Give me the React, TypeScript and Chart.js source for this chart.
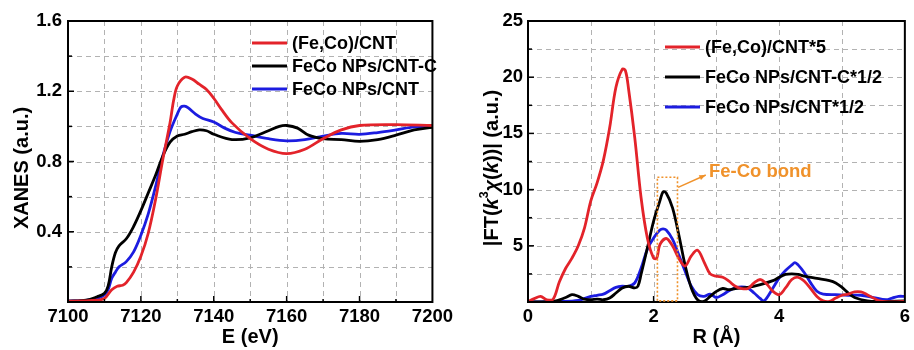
import React, { useEffect, useRef } from "react";
import { Chart, registerables } from "chart.js";
Chart.register(...registerables);

// ---------- Left panel: XANES ----------
const xanesLabels = ["(Fe,Co)/CNT", "FeCo NPs/CNT-C", "FeCo NPs/CNT"];
const xanesColors = ["#e3232a", "#000000", "#1c1ce0"];

const feCoCntE = [7100, 7104, 7108, 7110, 7112, 7113.5, 7115, 7116, 7118, 7120, 7122, 7124, 7126, 7128, 7129, 7130, 7132, 7134, 7136, 7138, 7140, 7142, 7145, 7150, 7155, 7160, 7165, 7170, 7175, 7180, 7190, 7200];
const feCoCntV = [0.005, 0.006, 0.01, 0.02, 0.07, 0.09, 0.095, 0.11, 0.17, 0.26, 0.39, 0.58, 0.81, 1.02, 1.15, 1.23, 1.28, 1.27, 1.24, 1.21, 1.16, 1.1, 1.02, 0.93, 0.87, 0.845, 0.87, 0.93, 0.98, 1.005, 1.01, 1.005];

const npsCntCE = [7100, 7105, 7108, 7110, 7111, 7112, 7113, 7114, 7116, 7118, 7120, 7122, 7124, 7126, 7128, 7130, 7132, 7134, 7136, 7138, 7140, 7145, 7150, 7155, 7158, 7160, 7163, 7166, 7170, 7175, 7180, 7185, 7190, 7195, 7200];
const npsCntCV = [0.005, 0.01, 0.03, 0.05, 0.09, 0.2, 0.28, 0.32, 0.36, 0.43, 0.52, 0.62, 0.72, 0.83, 0.91, 0.945, 0.955, 0.97, 0.98, 0.975, 0.955, 0.925, 0.935, 0.975, 1.0, 1.005, 0.99, 0.95, 0.93, 0.925, 0.915, 0.925, 0.95, 0.98, 0.995];

const npsCntE = [7100, 7104, 7108, 7110, 7111, 7112, 7113, 7114, 7116, 7118, 7120, 7122, 7124, 7126, 7128, 7130, 7131, 7132, 7133, 7135, 7137, 7140, 7143, 7146, 7150, 7155, 7160, 7165, 7170, 7175, 7180, 7185, 7190, 7195, 7200];
const npsCntV = [0.005, 0.008, 0.02, 0.04, 0.07, 0.135, 0.17, 0.2, 0.23, 0.285, 0.38, 0.5, 0.655, 0.83, 0.97, 1.07, 1.11, 1.115, 1.105, 1.07, 1.045, 1.025, 0.99, 0.965, 0.95, 0.93, 0.918, 0.925, 0.945, 0.96, 0.955, 0.965, 0.98, 0.997, 1.0];

const xanesXTicks = [7100, 7120, 7140, 7160, 7180, 7200];
const xanesYTicks = [0.4, 0.8, 1.2, 1.6];
const xanesXGrid = [7110, 7120, 7130, 7140, 7150, 7160, 7170, 7180, 7190];
const xanesYGrid = [0.2, 0.4, 0.6, 0.8, 1.0, 1.2, 1.4];

// ---------- Right panel: FT-EXAFS ----------
const ftLabels = ["(Fe,Co)/CNT*5", "FeCo NPs/CNT-C*1/2", "FeCo NPs/CNT*1/2"];
const ftColors = ["#e3232a", "#000000", "#1c1ce0"];

const ftRedR = [0, 0.1, 0.2, 0.3, 0.4, 0.5, 0.6, 0.7, 0.8, 0.9, 1.0, 1.1, 1.2, 1.3, 1.4, 1.5, 1.55, 1.6, 1.7, 1.8, 1.9, 2.0, 2.05, 2.1, 2.2, 2.3, 2.4, 2.5, 2.6, 2.7, 2.8, 2.9, 3.0, 3.1, 3.2, 3.3, 3.4, 3.5, 3.6, 3.7, 3.8, 3.9, 4.0, 4.1, 4.2, 4.3, 4.4, 4.5, 4.6, 4.7, 4.8, 4.9, 5.0, 5.1, 5.2, 5.3, 5.4, 5.5, 5.6, 5.8, 6.0];
const ftRedV = [0.05, 0.3, 0.5, 0.2, 0.25, 1.8, 3.0, 3.9, 5.0, 6.6, 9.0, 10.6, 12.6, 15.5, 19.1, 20.7, 20.6, 19.0, 14.6, 9.3, 5.7, 3.9, 3.9, 5.1, 5.65, 5.0, 3.9, 3.2, 4.1, 4.6, 3.6, 2.5, 2.3, 2.2, 1.85, 1.4, 1.2, 1.2, 1.7, 2.0, 1.6, 0.95, 0.65, 1.25, 2.0, 2.2, 1.85, 1.2, 0.5, 0.1, 0.05, 0.35, 0.6, 0.7, 0.9, 0.9, 0.65, 0.35, 0.1, 0.0, 0.05];

const ftBlackR = [0, 0.4, 0.6, 0.7, 0.8, 0.9, 1.0, 1.1, 1.2, 1.3, 1.4, 1.5, 1.6, 1.7, 1.75, 1.8, 1.9, 2.0, 2.1, 2.15, 2.2, 2.3, 2.4, 2.5, 2.6, 2.7, 2.8, 2.9, 3.0, 3.1, 3.2, 3.3, 3.5, 3.7, 3.9, 4.0, 4.1, 4.2, 4.3, 4.4, 4.6, 4.8, 4.9, 5.0, 5.1, 5.2, 5.4, 5.6, 6.0];
const ftBlackV = [0.0, 0.05, 0.4, 0.65, 0.5, 0.25, 0.2, 0.25, 0.2, 0.35, 0.8, 1.25, 1.4, 1.25, 1.4, 2.45, 4.8, 7.2, 9.0, 9.8, 9.7, 8.4, 6.0, 3.3, 1.25, 0.2, 0.05, 0.5, 0.95, 1.2, 1.1, 1.2, 1.3, 1.55, 1.9, 2.2, 2.45, 2.5, 2.45, 2.3, 2.1, 1.9, 1.7, 1.3, 0.8, 0.4, 0.1, 0.05, 0.1];

const ftBlueR = [0, 0.5, 0.8, 1.0, 1.1, 1.2, 1.3, 1.4, 1.5, 1.6, 1.7, 1.8, 1.9, 2.0, 2.1, 2.15, 2.2, 2.3, 2.4, 2.5, 2.6, 2.7, 2.8, 2.9, 3.0, 3.1, 3.2, 3.3, 3.4, 3.5, 3.6, 3.7, 3.75, 3.8, 3.9, 4.0, 4.1, 4.2, 4.25, 4.3, 4.4, 4.5, 4.6, 4.7, 4.9, 5.1, 5.3, 5.5, 5.7, 5.8, 5.9, 6.0];
const ftBlueV = [0.0, 0.05, 0.15, 0.5, 0.6, 0.7, 1.0, 1.3, 1.4, 1.4, 1.7, 3.0, 4.7, 5.7, 6.4, 6.5, 6.4, 5.6, 4.2, 2.75, 1.4, 0.65, 0.5, 0.7, 0.4, 0.65, 1.0, 1.25, 1.35, 1.25, 0.8, 0.3, 0.1, 0.35, 1.25, 2.15, 2.8, 3.3, 3.5, 3.3, 2.6, 1.7, 0.95, 0.7, 0.65, 0.6, 0.6, 0.4, 0.2, 0.35, 0.5, 0.5];

const ftXTicks = [0, 2, 4, 6];
const ftYTicks = [5, 10, 15, 20, 25];
const ftXGrid = [1, 2, 3, 4, 5];
const ftYGrid = [2.5, 5, 7.5, 10, 12.5, 15, 17.5, 20, 22.5];

const annotationText = "Fe-Co bond";

const FONT = '"Liberation Sans", Arial, sans-serif';
const ORANGE = "#f0922b";

function zip(xs: number[], ys: number[]) {
  return xs.map((x, i) => ({ x, y: ys[i] }));
}

type Seg = { t: string; italic?: boolean; sup?: boolean };

function drawSegmentsRotated(ctx: CanvasRenderingContext2D, segs: Seg[], cx: number, cy: number, size: number) {
  ctx.save();
  ctx.translate(cx, cy);
  ctx.rotate(-Math.PI / 2);
  ctx.textBaseline = "middle";
  ctx.textAlign = "left";
  const fontFor = (s: Seg) => `${s.italic ? "italic " : ""}bold ${s.sup ? size * 0.62 : size}px ${FONT}`;
  let total = 0;
  for (const s of segs) {
    ctx.font = fontFor(s);
    total += ctx.measureText(s.t).width;
  }
  let x = -total / 2;
  for (const s of segs) {
    ctx.font = fontFor(s);
    ctx.fillStyle = "#000";
    ctx.fillText(s.t, x, s.sup ? -size * 0.38 : 0);
    x += ctx.measureText(s.t).width;
  }
  ctx.restore();
}

function makePlugin(opts: {
  legend: { labels: string[]; colors: string[]; lineX0: number; lineX1: number; textX: number; rows: number[] };
  xGrid: number[];
  yGrid: number[];
  xMajor: number[];
  yMajor: number[];
  xTitle: string;
  yTitle: (ctx: CanvasRenderingContext2D, chart: any) => void;
  extra?: (chart: any) => void;
}) {
  return {
    id: "customDraw",
    beforeDatasetsDraw(chart: any) {
      const ctx: CanvasRenderingContext2D = chart.ctx;
      const a = chart.chartArea;
      const xs = chart.scales.x;
      const ys = chart.scales.y;
      ctx.save();
      ctx.strokeStyle = "#b2b2b2";
      ctx.lineWidth = 1;
      ctx.setLineDash([5, 4]);
      for (const v of opts.xGrid) {
        const px = Math.round(xs.getPixelForValue(v)) + 0.5;
        ctx.beginPath();
        ctx.moveTo(px, a.top);
        ctx.lineTo(px, a.bottom);
        ctx.stroke();
      }
      for (const v of opts.yGrid) {
        const py = Math.round(ys.getPixelForValue(v)) + 0.5;
        ctx.beginPath();
        ctx.moveTo(a.left, py);
        ctx.lineTo(a.right, py);
        ctx.stroke();
      }
      ctx.restore();
    },
    afterDraw(chart: any) {
      const ctx: CanvasRenderingContext2D = chart.ctx;
      const a = chart.chartArea;
      const xs = chart.scales.x;
      const ys = chart.scales.y;
      ctx.save();
      ctx.strokeStyle = "#000";
      ctx.lineWidth = 1.5;
      for (const v of opts.xGrid) {
        const px = xs.getPixelForValue(v);
        const len = opts.xMajor.includes(v) ? 6 : 3;
        ctx.beginPath();
        ctx.moveTo(px, a.bottom);
        ctx.lineTo(px, a.bottom - len);
        ctx.stroke();
      }
      for (const v of opts.yGrid) {
        const py = ys.getPixelForValue(v);
        const len = opts.yMajor.includes(v) ? 6 : 4;
        ctx.beginPath();
        ctx.moveTo(a.left, py);
        ctx.lineTo(a.left + len, py);
        ctx.stroke();
      }
      ctx.lineWidth = 2;
      ctx.strokeRect(a.left, a.top, a.right - a.left, a.bottom - a.top);
      const L = opts.legend;
      ctx.font = `bold 18px ${FONT}`;
      ctx.textBaseline = "middle";
      ctx.textAlign = "left";
      L.labels.forEach((lab, i) => {
        ctx.strokeStyle = L.colors[i];
        ctx.lineWidth = 3;
        ctx.beginPath();
        ctx.moveTo(L.lineX0, L.rows[i]);
        ctx.lineTo(L.lineX1, L.rows[i]);
        ctx.stroke();
        ctx.fillStyle = "#000";
        ctx.fillText(lab, L.textX, L.rows[i] + 1);
      });
      ctx.font = `bold 20px ${FONT}`;
      ctx.textAlign = "center";
      ctx.fillStyle = "#000";
      ctx.fillText(opts.xTitle, (a.left + a.right) / 2, 337);
      opts.yTitle(ctx, chart);
      if (opts.extra) opts.extra(chart);
      ctx.restore();
    },
  };
}

function useChart(ref: React.RefObject<HTMLCanvasElement | null>, build: () => any) {
  useEffect(() => {
    if (!ref.current) return;
    const chart = new Chart(ref.current, build());
    return () => chart.destroy();
  }, []);
}

const tickFont = { family: FONT, size: 18.5, weight: "bold" };

function XanesChart() {
  const ref = useRef<HTMLCanvasElement | null>(null);
  useChart(ref, () => {
    const series = [zip(feCoCntE, feCoCntV), zip(npsCntCE, npsCntCV), zip(npsCntE, npsCntV)];
    return {
      type: "line",
      data: {
        datasets: series.map((d, i) => ({
          label: xanesLabels[i],
          data: d,
          borderColor: xanesColors[i],
          borderWidth: 2.8,
          pointRadius: 0,
          tension: 0.35,
          fill: false,
        })),
      },
      options: {
        responsive: false,
        animation: false,
        layout: { padding: { top: 21, right: 8, left: 0, bottom: 0 } },
        plugins: { legend: { display: false }, tooltip: { enabled: false } },
        scales: {
          x: {
            type: "linear",
            min: 7100,
            max: 7200,
            afterFit: (s: any) => { s.height = 48; },
            afterBuildTicks: (s: any) => { s.ticks = xanesXTicks.map((v) => ({ value: v })); },
            ticks: {
              autoSkip: false,
              maxRotation: 0,
              padding: 4,
              color: "#000",
              font: tickFont,
              callback: (v: number) => String(v),
            },
            grid: { display: false, drawTicks: false },
            border: { display: false },
          },
          y: {
            type: "linear",
            min: 0,
            max: 1.6,
            afterFit: (s: any) => { s.width = 68; },
            afterBuildTicks: (s: any) => { s.ticks = xanesYTicks.map((v) => ({ value: v })); },
            ticks: {
              autoSkip: false,
              padding: 6,
              color: "#000",
              font: tickFont,
              callback: (v: number) => v.toFixed(1),
            },
            grid: { display: false, drawTicks: false },
            border: { display: false },
          },
        },
      },
      plugins: [
        makePlugin({
          legend: { labels: xanesLabels, colors: xanesColors, lineX0: 252, lineX1: 287, textX: 292, rows: [43, 66, 89] },
          xGrid: xanesXGrid,
          yGrid: xanesYGrid,
          xMajor: xanesXTicks,
          yMajor: xanesYTicks,
          xTitle: "E (eV)",
          yTitle: (ctx) => {
            drawSegmentsRotated(ctx, [{ t: "XANES (a.u.)" }], 22, 168, 20);
          },
        }),
      ],
    };
  });
  return <canvas ref={ref} width={457} height={350} style={{ display: "block" }} />;
}

function FtChart() {
  const ref = useRef<HTMLCanvasElement | null>(null);
  useChart(ref, () => {
    const series = [zip(ftRedR, ftRedV), zip(ftBlackR, ftBlackV), zip(ftBlueR, ftBlueV)];
    return {
      type: "line",
      data: {
        datasets: series.map((d, i) => ({
          label: ftLabels[i],
          data: d,
          borderColor: ftColors[i],
          borderWidth: 2.8,
          pointRadius: 0,
          tension: 0.35,
          fill: false,
        })),
      },
      options: {
        responsive: false,
        animation: false,
        layout: { padding: { top: 21, right: 5, left: 0, bottom: 0 } },
        plugins: { legend: { display: false }, tooltip: { enabled: false } },
        scales: {
          x: {
            type: "linear",
            min: 0,
            max: 6,
            afterFit: (s: any) => { s.height = 48; },
            afterBuildTicks: (s: any) => { s.ticks = ftXTicks.map((v) => ({ value: v })); },
            ticks: {
              autoSkip: false,
              maxRotation: 0,
              padding: 4,
              color: "#000",
              font: tickFont,
              callback: (v: number) => String(v),
            },
            grid: { display: false, drawTicks: false },
            border: { display: false },
          },
          y: {
            type: "linear",
            min: 0,
            max: 25,
            afterFit: (s: any) => { s.width = 71; },
            afterBuildTicks: (s: any) => { s.ticks = ftYTicks.map((v) => ({ value: v })); },
            ticks: {
              autoSkip: false,
              padding: 5,
              color: "#000",
              font: tickFont,
              callback: (v: number) => String(v),
            },
            grid: { display: false, drawTicks: false },
            border: { display: false },
          },
        },
      },
      plugins: [
        makePlugin({
          legend: { labels: ftLabels, colors: ftColors, lineX0: 208, lineX1: 243, textX: 248, rows: [47, 77, 107] },
          xGrid: ftXGrid,
          yGrid: ftYGrid,
          xMajor: ftXTicks,
          yMajor: ftYTicks,
          xTitle: "R (Å)",
          yTitle: (ctx) => {
            drawSegmentsRotated(
              ctx,
              [
                { t: "|FT(" },
                { t: "k", italic: true },
                { t: "3", sup: true },
                { t: "χ", italic: true },
                { t: "(" },
                { t: "k", italic: true },
                { t: "))| (a.u.)" },
              ],
              35,
              168,
              20
            );
          },
          extra: (chart: any) => {
            const ctx: CanvasRenderingContext2D = chart.ctx;
            const xs = chart.scales.x;
            const ys = chart.scales.y;
            const x0 = xs.getPixelForValue(2.06);
            const x1 = xs.getPixelForValue(2.38);
            const y0 = ys.getPixelForValue(11.1);
            const y1 = ys.getPixelForValue(0.1);
            ctx.save();
            ctx.strokeStyle = ORANGE;
            ctx.lineWidth = 1.6;
            ctx.setLineDash([2, 2]);
            ctx.strokeRect(x0, y0, x1 - x0, y1 - y0);
            ctx.setLineDash([]);
            const ax0 = xs.getPixelForValue(2.39);
            const ay0 = ys.getPixelForValue(10.2);
            const ax1 = xs.getPixelForValue(2.83);
            const ay1 = ys.getPixelForValue(11.3);
            ctx.lineWidth = 1.5;
            ctx.beginPath();
            ctx.moveTo(ax0, ay0);
            ctx.lineTo(ax1, ay1);
            ctx.stroke();
            const ang = Math.atan2(ay1 - ay0, ax1 - ax0);
            ctx.fillStyle = ORANGE;
            ctx.beginPath();
            ctx.moveTo(ax1, ay1);
            ctx.lineTo(ax1 - 7 * Math.cos(ang - 0.4), ay1 - 7 * Math.sin(ang - 0.4));
            ctx.lineTo(ax1 - 7 * Math.cos(ang + 0.4), ay1 - 7 * Math.sin(ang + 0.4));
            ctx.closePath();
            ctx.fill();
            ctx.font = `bold 18.5px ${FONT}`;
            ctx.textAlign = "left";
            ctx.textBaseline = "middle";
            ctx.fillText(annotationText, xs.getPixelForValue(2.88), ys.getPixelForValue(11.6));
            ctx.restore();
          },
        }),
      ],
    };
  });
  return <canvas ref={ref} width={457} height={350} style={{ display: "block" }} />;
}

export default function App() {
  return (
    <div style={{ position: "absolute", left: 0, top: 0, width: 914, height: 350, background: "#fff", display: "flex" }}>
      <XanesChart />
      <FtChart />
    </div>
  );
}
